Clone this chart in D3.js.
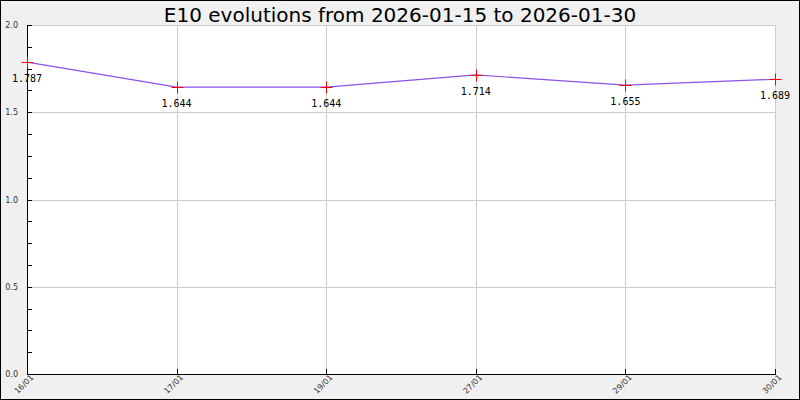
<!DOCTYPE html>
<html><head><meta charset="utf-8">
<script src="https://cdn.jsdelivr.net/npm/d3@7"></script>
<style>body{margin:0;background:#fff}svg{display:block}</style>
</head><body><svg id="c" width="800" height="400"></svg>
<script>
const title = "E10 evolutions from 2026-01-15 to 2026-01-30";
const dates = ["16/01","17/01","19/01","27/01","29/01","30/01"];
const prices = [1.787,1.644,1.644,1.714,1.655,1.689];
const yTicks = [0.0,0.5,1.0,1.5,2.0];
const yMinorTicks = [0.125,0.25,0.375,0.625,0.75,0.875,1.125,1.25,1.375,1.625,1.75,1.875];

const svg = d3.select("#c");
const W=800,H=400, L=27, R=775, T=25, B=374;
svg.append("rect").attr("x",0.5).attr("y",0.5).attr("width",W-1).attr("height",H-1)
  .attr("fill","#f0f0f0").attr("stroke","#000");
svg.append("rect").attr("x",L).attr("y",T).attr("width",R-L).attr("height",B-T).attr("fill","#fff");

const x = d3.scalePoint().domain(dates).range([L,R]);
const y = d3.scaleLinear().domain([0,2]).range([B,T]);
const px = d => Math.round(x(d))+0.5;
const py = v => Math.round(y(v))+0.5;

// grid
const g = svg.append("g");
g.selectAll(".hg").data(yTicks.filter(d=>d>0)).join("line")
  .attr("x1",L).attr("x2",R).attr("y1",d=>py(d)).attr("y2",d=>py(d)).attr("stroke","#cccccc");
g.selectAll(".vg").data(dates.slice(1)).join("line")
  .attr("x1",d=>px(d)).attr("x2",d=>px(d)).attr("y1",T).attr("y2",B).attr("stroke","#cccccc");

// axes
const ya = svg.append("g").attr("transform",`translate(${L},0)`).attr("shape-rendering","crispEdges")
  .call(d3.axisRight(y).tickValues(yTicks).tickSize(5).tickFormat(""));
ya.select(".domain").remove();
svg.append("g").attr("transform",`translate(${L},0)`).attr("shape-rendering","crispEdges")
  .call(d3.axisRight(y).tickValues(yMinorTicks).tickSize(5).tickFormat("")).select(".domain").remove();
svg.append("line").attr("x1",L+0.5).attr("x2",L+0.5).attr("y1",T).attr("y2",B+1).attr("stroke","#000");
svg.selectAll(".yl").data(yTicks).join("text")
  .attr("x",L-9).attr("y",d=>y(d)+3).attr("text-anchor","end")
  .attr("font-family","DejaVu Sans").attr("font-size",8).attr("fill","#333")
  .text(d=>d.toFixed(1));

const xa = svg.append("g").attr("transform",`translate(0,${B})`).attr("shape-rendering","crispEdges")
  .call(d3.axisTop(x).tickSize(5).tickFormat(""));
xa.select(".domain").remove();
svg.append("line").attr("x1",L).attr("x2",R+1).attr("y1",B+0.5).attr("y2",B+0.5).attr("stroke","#000");
svg.selectAll(".xl").data(dates).join("text")
  .attr("transform",d=>`translate(${x(d)+7},${B+4}) rotate(-45)`)
  .attr("text-anchor","end").attr("font-family","DejaVu Sans").attr("font-size",8).attr("fill","#333")
  .text(d=>d);

// line
const line = d3.line().x((d,i)=>x(dates[i])).y(d=>y(d));
svg.append("path").datum(prices).attr("d",line).attr("fill","none").attr("stroke","#8c52e4").attr("stroke-width",1.2);

// markers
const mk = svg.append("g");
prices.forEach((v,i)=>{
  const cx=px(dates[i]), cy=py(v);
  mk.append("line").attr("x1",cx-6).attr("x2",cx+6).attr("y1",cy).attr("y2",cy).attr("stroke","#ff0000");
  mk.append("line").attr("x1",cx).attr("x2",cx).attr("y1",cy-6).attr("y2",cy+6).attr("stroke","#ff0000");
});
svg.selectAll(".vl").data(prices).join("text")
  .attr("x",(d,i)=>x(dates[i])).attr("y",d=>y(d)+20).attr("text-anchor","middle")
  .attr("font-family","DejaVu Sans Mono").attr("font-size",10).attr("fill","#000")
  .text(d=>d.toFixed(3));

svg.append("text").attr("x",400).attr("y",22).attr("text-anchor","middle")
  .attr("font-family","DejaVu Sans").attr("font-size",20).attr("fill","#000").text(title);
</script></body></html>
